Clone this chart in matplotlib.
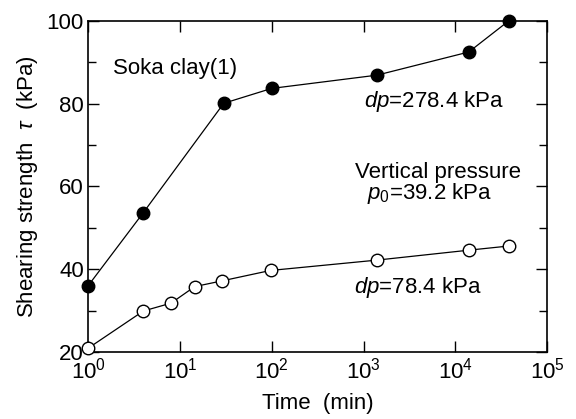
import matplotlib
matplotlib.use('Agg')
import matplotlib.pyplot as plt
from matplotlib.ticker import MultipleLocator, LogLocator, NullLocator

plt.rcParams['font.family'] = ['Liberation Sans', 'DejaVu Sans']
plt.rcParams['mathtext.fontset'] = 'custom'
plt.rcParams['mathtext.rm'] = 'Liberation Sans'
plt.rcParams['mathtext.it'] = 'Liberation Sans:italic'

# dp = 278.4 kPa (filled)
t_high = [1, 4, 30, 100, 1400, 14000, 38000]
tau_high = [36.0, 53.7, 80.1, 83.7, 86.9, 92.5, 100.0]

# dp = 78.4 kPa (open)
t_low = [1, 4, 8, 14.5, 29, 97, 1400, 14000, 38000]
tau_low = [20.9, 29.9, 31.8, 35.8, 37.2, 39.7, 42.2, 44.6, 45.6]

FS = 16

fig = plt.figure(figsize=(5.76, 4.19), dpi=100)
ax = fig.add_axes([0.153, 0.160, 0.797, 0.790])

ax.plot(t_high, tau_high, '-o', color='black', lw=0.9, ms=9,
        mfc='black', mec='black', clip_on=False, zorder=3)
ax.plot(t_low, tau_low, '-o', color='black', lw=0.9, ms=9,
        mfc='white', mec='black', mew=1.0, clip_on=False, zorder=3)

ax.set_xscale('log')
ax.set_xlim(1, 1e5)
ax.set_ylim(20, 100)
ax.xaxis.set_major_locator(LogLocator(base=10, numticks=10))
ax.xaxis.set_minor_locator(NullLocator())
ax.yaxis.set_major_locator(MultipleLocator(20))
ax.yaxis.set_minor_locator(MultipleLocator(10))

ax.tick_params(which='both', direction='in', top=True, right=True,
               labelsize=FS, width=1.0)
ax.tick_params(axis='x', pad=4)
ax.tick_params(axis='y', pad=3)
ax.tick_params(which='major', length=8)
ax.tick_params(which='minor', length=6)
for s in ax.spines.values():
    s.set_linewidth(1.2)

ax.set_xlabel('Time  (min)', fontsize=FS, labelpad=7)
ax.set_ylabel(r'Shearing strength  $\tau$  (kPa)', fontsize=FS, labelpad=5)

ax.text(10**0.27, 87.1, 'Soka clay(1)', fontsize=FS, va='baseline', ha='left')
ax.text(10**3.0, 79.25, r'$dp$=278.4 kPa', fontsize=FS, va='baseline', ha='left')
ax.text(10**2.91, 62.0, 'Vertical pressure', fontsize=FS, va='baseline', ha='left')
ax.text(10**3.04, 56.9, r'$p_{\mathit{0}}$=39.2 kPa', fontsize=FS, va='baseline', ha='left')
ax.text(10**2.9, 34.2, r'$dp$=78.4 kPa', fontsize=FS, va='baseline', ha='left')

fig.savefig('out.png', dpi=100)
